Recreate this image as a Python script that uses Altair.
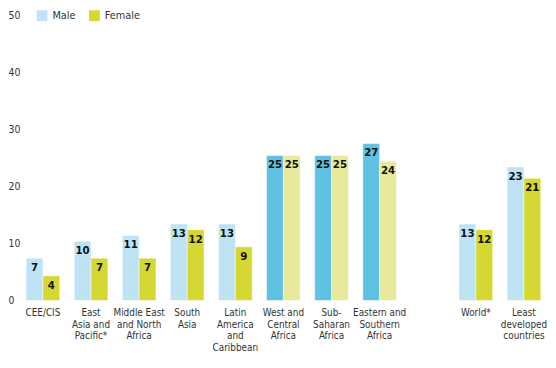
import altair as alt
import pandas as pd

categories = ["CEE/CIS", "East|Asia and|Pacific*", "Middle East|and North|Africa", "South|Asia",
              "Latin|America|and|Caribbean", "West and|Central|Africa", "Sub-|Saharan|Africa",
              "Eastern and|Southern|Africa", "World*", "Least|developed|countries"]
highlight = [False, False, False, False, False, True, True, True, False, False]
male_height = [7.4, 10.4, 11.4, 13.4, 13.4, 25.4, 25.4, 27.5, 13.4, 23.4]
female_height = [4.3, 7.4, 7.4, 12.4, 9.4, 25.4, 25.4, 24.4, 12.4, 21.4]
male_label = [7, 10, 11, 13, 13, 25, 25, 27, 13, 23]
female_label = [4, 7, 7, 12, 9, 25, 25, 24, 12, 21]

domain = categories[:8] + ["gap"] + categories[8:]

rows = []
for i, c in enumerate(categories):
    rows.append({"cat": c, "sex": "Male", "v": male_height[i], "lab": male_label[i], "hl": highlight[i]})
    rows.append({"cat": c, "sex": "Female", "v": female_height[i], "lab": female_label[i], "hl": highlight[i]})
df = pd.DataFrame(rows)

FONT = "DejaVu Sans Condensed, Liberation Sans Narrow, sans-serif"

x = alt.X("cat:N", scale=alt.Scale(domain=domain, paddingInner=0.3, paddingOuter=0.15),
          sort=domain,
          axis=alt.Axis(title=None, labelAngle=0, domain=False, ticks=False, labelFontSize=10,
                        labelLineHeight=12, labelPadding=7, labelColor="#333333", labelFont=FONT,
                        labelLimit=0, labelBaseline="top",
                        labelExpr="datum.value == 'gap' ? '' : split(datum.value, '|')"))
xo = alt.XOffset("sex:N", scale=alt.Scale(domain=["Male", "Female"], paddingInner=0))
y = alt.Y("v:Q", scale=alt.Scale(domain=[0, 50], nice=False),
          axis=alt.Axis(title=None, values=[0, 10, 20, 30, 40, 50], grid=False, domain=False,
                        ticks=False, labelFontSize=10.5, labelColor="#333333", labelFont=FONT,
                        labelAlign="left", labelPadding=11))

color = alt.Color("sex:N",
                  scale=alt.Scale(domain=["Male", "Female"], range=["#bde3f4", "#d5d832"]),
                  legend=alt.Legend(title=None, orient="none", legendX=18, legendY=-5,
                                    direction="horizontal", symbolType="square", symbolSize=121,
                                    symbolStrokeWidth=0, labelFontSize=11, labelFont=FONT,
                                    labelColor="#333333", labelOffset=5, columnPadding=13,
                                    padding=0),
                  condition=[{"test": "datum.hl && datum.sex == 'Male'", "value": "#5fc2e2"},
                             {"test": "datum.hl && datum.sex == 'Female'", "value": "#e8e99a"}])

bars = alt.Chart(df).mark_bar(stroke="white", strokeWidth=0.8, strokeOpacity=0.6).encode(
    x=x, xOffset=xo, y=y, color=color)

texts = alt.Chart(df).mark_text(baseline="top", dy=4, fontSize=11.5, fontWeight="bold",
                                font=FONT, color="#111111").encode(
    x=x, xOffset=xo, y=y, text="lab:Q")

chart = alt.layer(bars, texts).properties(
    width=536, height=289,
    autosize=alt.AutoSizeParams(type="none"),
    padding={"left": 11, "top": 5, "right": 0, "bottom": 55},
).configure_view(stroke=None)

chart.save("out.html", embed_options={"renderer": "svg", "actions": False})
